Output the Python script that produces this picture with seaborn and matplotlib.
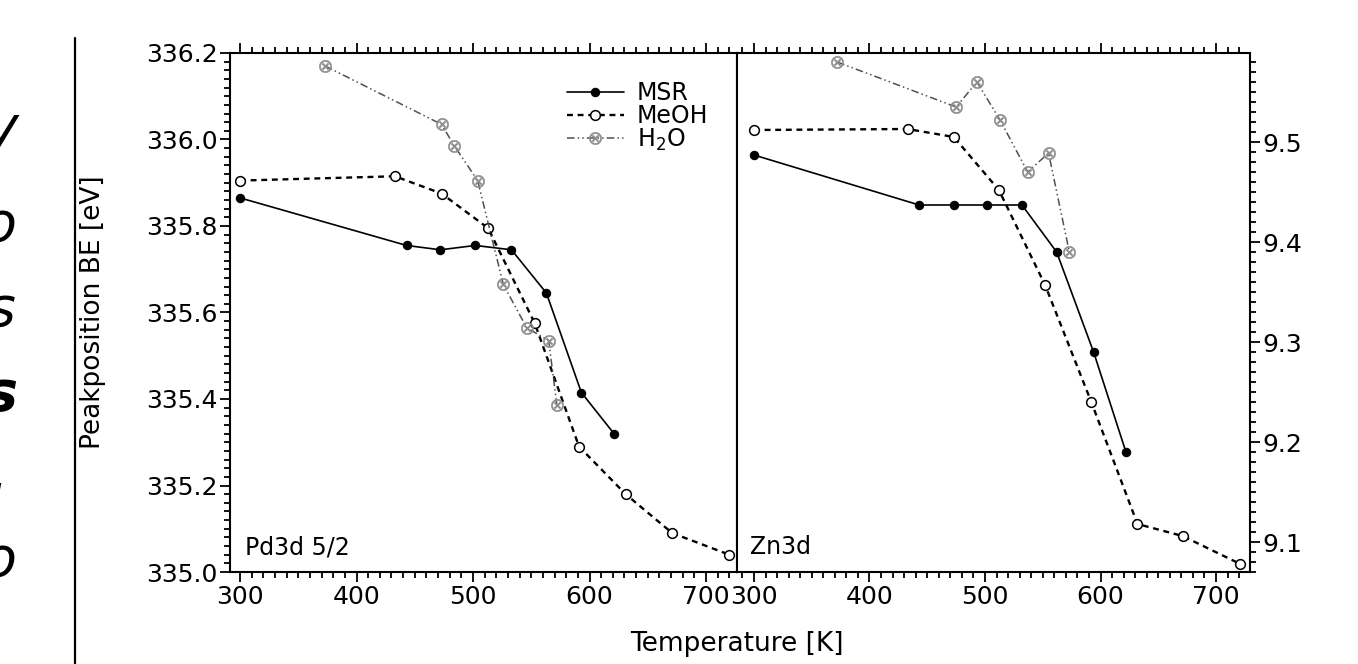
import matplotlib
matplotlib.use('Agg')
import matplotlib.pyplot as plt
from matplotlib.ticker import MultipleLocator, FormatStrFormatter
from matplotlib.lines import Line2D
import pandas as pd
import seaborn as sns

# Pd3d 5/2 panel (left axis, eV)
pd_msr_T = [300, 443, 472, 502, 533, 563, 593, 621]
pd_msr_E = [335.865, 335.755, 335.745, 335.755, 335.745, 335.645, 335.415, 335.32]
pd_meoh_T = [300, 433, 473, 513, 553, 591, 631, 671, 720]
pd_meoh_E = [335.905, 335.915, 335.875, 335.795, 335.575, 335.29, 335.18, 335.09, 335.04]
pd_h2o_T = [373, 473, 484, 504, 526, 546, 565, 572]
pd_h2o_E = [336.17, 336.035, 335.985, 335.905, 335.665, 335.565, 335.535, 335.385]

# Zn3d panel (right axis, eV)
zn_msr_T = [300, 443, 473, 502, 532, 562, 594, 622]
zn_msr_E = [9.487, 9.437, 9.437, 9.437, 9.437, 9.39, 9.29, 9.19]
zn_meoh_T = [300, 433, 473, 512, 552, 592, 632, 671, 721]
zn_meoh_E = [9.512, 9.513, 9.505, 9.452, 9.357, 9.24, 9.118, 9.106, 9.078]
zn_h2o_T = [372, 475, 493, 513, 537, 555, 573]
zn_h2o_E = [9.580, 9.535, 9.560, 9.522, 9.470, 9.489, 9.39]

sns.set_theme(style='ticks')
plt.rcParams['font.family'] = ['DejaVu Sans']
plt.rcParams['mathtext.fontset'] = 'dejavusans'
for key in ['text.color', 'axes.labelcolor', 'xtick.color', 'ytick.color', 'axes.edgecolor']:
    plt.rcParams[key] = 'black'

styles = {
    'MSR': dict(color='black', linestyle='-', linewidth=1.2, marker='o', markersize=6,
                markerfacecolor='black', markeredgecolor='black', markeredgewidth=0.8),
    'MeOH': dict(color='black', linestyle=(0, (2.5, 2.0)), linewidth=1.7, marker='o', markersize=7,
                 markerfacecolor='white', markeredgecolor='black', markeredgewidth=1.1),
    'H$_2$O': dict(color='#505050', linestyle=(0, (5, 2, 1, 2, 1, 2)), linewidth=1.1,
                   marker='$\\otimes$', markersize=9,
                   markerfacecolor='#8c8c8c', markeredgecolor='#8c8c8c', markeredgewidth=0.3),
}


def draw_panel(ax, series, with_labels):
    for name, T, E in series:
        df = pd.DataFrame({'T': T, 'E': E})
        kw = dict(styles[name])
        if with_labels:
            kw['label'] = name
        sns.lineplot(data=df, x='T', y='E', ax=ax, sort=False, **kw)
    ax.set_xlabel('')
    ax.set_ylabel('')
    ax.xaxis.set_major_locator(MultipleLocator(100))
    ax.xaxis.set_minor_locator(MultipleLocator(10))
    for side in ['top', 'bottom', 'left', 'right']:
        ax.spines[side].set_visible(True)
        ax.spines[side].set_linewidth(1.5)
        ax.spines[side].set_color('black')


W, H = 1358, 664
fig = plt.figure(figsize=(W / 100, H / 100), dpi=100)
bottom = 1 - 572 / H
height = (572 - 53) / H
ax1 = fig.add_axes([230 / W, bottom, (737 - 230) / W, height])
ax2 = fig.add_axes([737 / W, bottom, (1250 - 737) / W, height])

draw_panel(ax1, [('MSR', pd_msr_T, pd_msr_E),
                 ('MeOH', pd_meoh_T, pd_meoh_E),
                 ('H$_2$O', pd_h2o_T, pd_h2o_E)], True)
draw_panel(ax2, [('MSR', zn_msr_T, zn_msr_E),
                 ('MeOH', zn_meoh_T, zn_meoh_E),
                 ('H$_2$O', zn_h2o_T, zn_h2o_E)], False)

ax1.set_xlim(291.4, 726.6)
ax1.set_ylim(335.0, 336.2)
ax1.yaxis.set_major_locator(MultipleLocator(0.2))
ax1.yaxis.set_minor_locator(MultipleLocator(0.02))
ax1.yaxis.set_major_formatter(FormatStrFormatter('%.1f'))
ax1.tick_params(which='both', direction='out', top=True, bottom=True, left=True, right=False,
                labeltop=False, labelsize=18, width=1.3, colors='black', pad=2)
ax1.tick_params(which='major', length=7)
ax1.tick_params(which='minor', length=4)

ax2.set_xlim(285.3, 729.4)
ax2.set_ylim(9.07, 9.589)
ax2.yaxis.set_major_locator(MultipleLocator(0.1))
ax2.yaxis.set_minor_locator(MultipleLocator(0.01))
ax2.yaxis.set_major_formatter(FormatStrFormatter('%.1f'))
ax2.tick_params(which='both', direction='out', top=True, bottom=True, left=False, right=True,
                labelleft=False, labelright=True, labeltop=False, labelsize=18,
                width=1.3, colors='black', pad=2)
ax2.tick_params(which='major', length=7)
ax2.tick_params(which='minor', length=4)

leg = ax1.legend(loc='upper left', bbox_to_anchor=(567 / W, 1 - 81 / H),
                 bbox_transform=fig.transFigure, frameon=False, fontsize=17,
                 handlelength=2.4, handletextpad=0.55, labelspacing=-0.05,
                 borderpad=0, borderaxespad=0)
if ax2.get_legend() is not None:
    ax2.get_legend().remove()

ax1.text(0.03, 0.048, 'Pd3d 5/2', transform=ax1.transAxes, fontsize=17, va='center', ha='left')
ax2.text(0.026, 0.048, 'Zn3d', transform=ax2.transAxes, fontsize=17, va='center', ha='left')

ax1.set_ylabel('Peakposition BE [eV]', fontsize=19)
ax1.yaxis.set_label_coords((106 - 230) / 507, 0.5)
ax1.set_xlabel('Temperature [K]', fontsize=19)
ax1.xaxis.set_label_coords((737 - 230) / 507, (572 - 631) / 519)

# cropped neighbouring page on the left
fig.add_artist(Line2D([75 / W, 75 / W], [1 - 38 / H, 0], transform=fig.transFigure,
                      color='black', linewidth=1.6))
fragments = [('y', 18, 130, 'normal'), ('o', 16, 225, 'normal'), ('s', 15, 310, 'normal'),
             ('s', 17, 395, 'bold'), ('.', 8, 475, 'normal'), ('o', 16, 560, 'normal')]
for ch, xr, yc, wt in fragments:
    fig.text(xr / W, 1 - yc / H, ch, fontsize=40, style='italic', fontweight=wt,
             ha='right', va='center')

fig.savefig('out.png', dpi=100)
